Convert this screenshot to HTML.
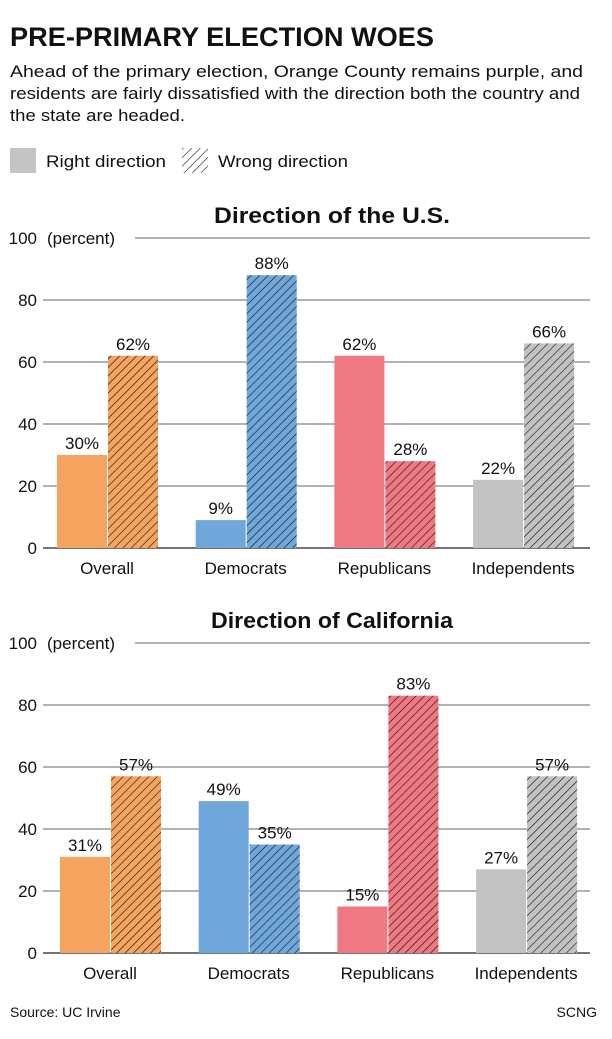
<!DOCTYPE html>
<html><head><meta charset="utf-8"><style>
body{margin:0;background:#fff;width:612px;height:1039px;overflow:hidden;font-family:"Liberation Sans",sans-serif;}
svg{display:block}
</style></head><body>
<svg width="612" height="1039" xmlns="http://www.w3.org/2000/svg">
<defs>
<pattern id="h" width="6" height="6" patternUnits="userSpaceOnUse" patternTransform="rotate(45)"><line x1="0" y1="0" x2="0" y2="6" stroke="#111" stroke-width="1.2"/></pattern>
</defs>
<text x="10" y="46" font-size="27" font-weight="bold" fill="#111" textLength="424" lengthAdjust="spacingAndGlyphs">PRE-PRIMARY ELECTION WOES</text>
<text x="10" y="77" font-size="17" fill="#111" textLength="573" lengthAdjust="spacingAndGlyphs">Ahead of the primary election, Orange County remains purple, and</text>
<text x="10" y="99" font-size="17" fill="#111" textLength="570" lengthAdjust="spacingAndGlyphs">residents are fairly dissatisfied with the direction both the country and</text>
<text x="10" y="121" font-size="17" fill="#111" textLength="175" lengthAdjust="spacingAndGlyphs">the state are headed.</text>
<g>
<rect x="10" y="148" width="26" height="25" fill="#c4c4c4"/>
<text x="46" y="167" font-size="17" fill="#111" textLength="120" lengthAdjust="spacingAndGlyphs">Right direction</text>
<rect x="182" y="148" width="26" height="25" fill="url(#h)"/>
<text x="218" y="167" font-size="17" fill="#111" textLength="130" lengthAdjust="spacingAndGlyphs">Wrong direction</text>
</g>
<g id="charts"></g>
<text x="10" y="1017" font-size="14" fill="#111">Source: UC Irvine</text>
<text x="597" y="1017" font-size="14" fill="#111" text-anchor="end">SCNG</text>
</svg>
<script>
const categories=["Overall","Democrats","Republicans","Independents"];
const colors=["#f4a45e","#6fa7db","#f07882","#c2c2c2"];
const usRight=[30,9,62,22];
const usWrong=[62,88,28,66];
const caRight=[31,49,15,27];
const caWrong=[57,35,83,57];
const ticks=[0,20,40,60,80,100];
const NS="http://www.w3.org/2000/svg";
const root=document.getElementById("charts");
function mk(t,a,p){const e=document.createElementNS(NS,t);for(const k in a)e.setAttribute(k,a[k]);(p||root).appendChild(e);return e;}
function chart(title,right,wrong,base,x0,key){
  const y=v=>base-v*3.1;
  const g=mk("g",{});
  
  
  const t=mk("text",{x:332,y:base-325,"font-size":22,"font-weight":"bold","text-anchor":"middle",fill:"#111",textLength:key==="us"?236:242,lengthAdjust:"spacingAndGlyphs"},g);
  t.textContent=title;
  
  
  ticks.forEach(v=>{
    const l=mk("line",{x1:v===100?135:43,x2:590,y1:y(v),y2:y(v),stroke:v===0?"#222":"#666","stroke-width":v===0?1.3:1},g);
    
    
    const tx=mk("text",{x:37,y:y(v)+6,"font-size":17,"text-anchor":"end",fill:"#111"},g);
    tx.textContent=v;
    
    
  });
  const u=mk("text",{x:47,y:y(100)+6,"font-size":17,fill:"#111"},g);
  u.textContent="(percent)";
  
  
  categories.forEach((c,i)=>{
    const gx=x0+i*138.7;
    [[right[i],false],[wrong[i],true]].forEach(([v,h],j)=>{
      const bx=gx+j*51;
      const r=mk("rect",{x:bx,y:y(v),width:50,height:v*3.1,fill:colors[i]},g);
      
      
      if(h){const r2=mk("rect",{x:bx,y:y(v),width:50,height:v*3.1,fill:"url(#h)"},g);
        
        }
      const lb=mk("text",{x:bx+25,y:y(v)-6,"font-size":17,"text-anchor":"middle",fill:"#111"},g);
      lb.textContent=v+"%";
      
      
    });
    const cl=mk("text",{x:gx+50,y:base+26,"font-size":17,"text-anchor":"middle",fill:"#111"},g);
    cl.textContent=c;
    
    
  });
}
chart("Direction of the U.S.",usRight,usWrong,548,57,"us");
chart("Direction of California",caRight,caWrong,953,60,"ca");
</script>
</body></html>
